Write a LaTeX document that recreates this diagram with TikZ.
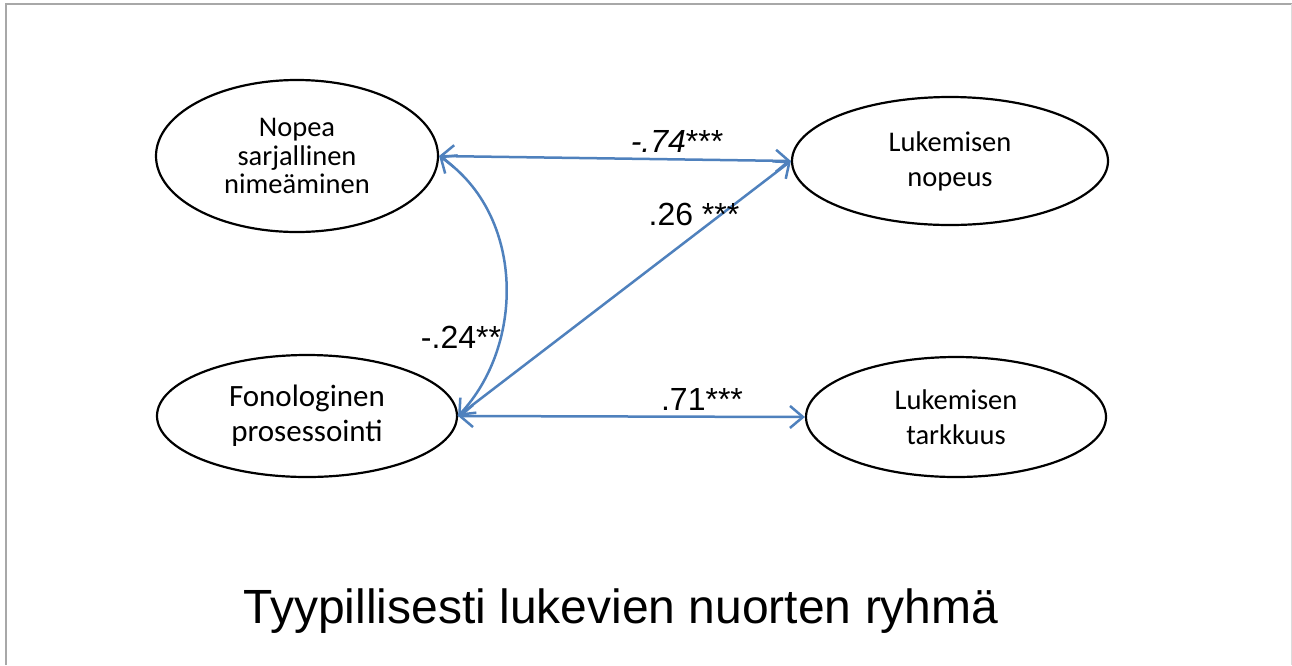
\documentclass[tikz,border=0pt]{standalone}
\usepackage{fontspec}
\setmainfont{Carlito}
\newfontfamily\arialf{Liberation Sans}
\usetikzlibrary{arrows.meta,shapes.geometric}
\definecolor{pathblue}{RGB}{79,129,189}
\definecolor{framegray}{RGB}{168,168,168}
\begin{document}
\begin{tikzpicture}[x=1pt,y=-1pt,
  >={Straight Barb[length=13pt,width=22pt,line width=2.5pt]},
  latent/.style={draw=black,line width=2.2pt,ellipse,inner sep=0pt,align=center},
  nodetext/.style={font=\fontsize{28.5}{28.5}\selectfont},
  nodetextb/.style={font=\fontsize{28.5}{35}\selectfont},
  pathline/.style={draw=pathblue,line width=2.5pt},
  coef/.style={font=\arialf\fontsize{32}{32}\selectfont,anchor=base,inner sep=0pt}]
\useasboundingbox (0,0) rectangle (1292,665);
\fill[white] (0,0) rectangle (1292,665);
% frame
\coordinate (ftl) at (6,4);
\coordinate (ftr) at (1292,4);
\coordinate (fbl) at (6,665);
\coordinate (frt) at (1291,4);
\coordinate (frb) at (1291,665);
\draw[framegray,line width=2pt] (fbl) -- (ftl) -- (ftr);
\draw[framegray!40,line width=1pt] (frt) -- (frb);
% nodes
\node[latent,nodetext,minimum width=282pt,minimum height=152pt] (nsn) at (297,156)
  {Nopea\\sarjallinen\\nime\"aminen};
\node[latent,nodetextb,minimum width=316pt,minimum height=128pt] (ln) at (950,161)
  {Lukemisen\\nopeus};
\node[latent,font=\fontsize{31}{35}\selectfont,minimum width=300pt,minimum height=122pt] (fp) at (307,416)
  {Fonologinen\\prosessointi};
\node[latent,nodetextb,minimum width=300pt,minimum height=120pt] (lt) at (956,417)
  {Lukemisen\\tarkkuus};
% connectors
\draw[pathline,<->] (nsn.east) -- (ln.west);
\draw[pathline,<->] (nsn.east) .. controls (525,215) and (525,345) .. (fp.east);
\draw[pathline,->] (fp.east) -- (ln.west);
\draw[pathline,<->] (fp.east) -- (lt.west);
% coefficients
\node[coef] (c74) at (677,152) {\textit{-.74}***};
\node[coef] (c26) at (694,225) {.26 ***};
\node[coef] (c24) at (461,348) {-.24**};
\node[coef] (c71) at (702,410) {.71***};
% title
\node[font=\arialf\fontsize{48}{48}\selectfont,anchor=base,inner sep=0pt] (title) at (621,623)
  {Tyypillisesti lukevien nuorten ryhmä};
\end{tikzpicture}
\end{document}
